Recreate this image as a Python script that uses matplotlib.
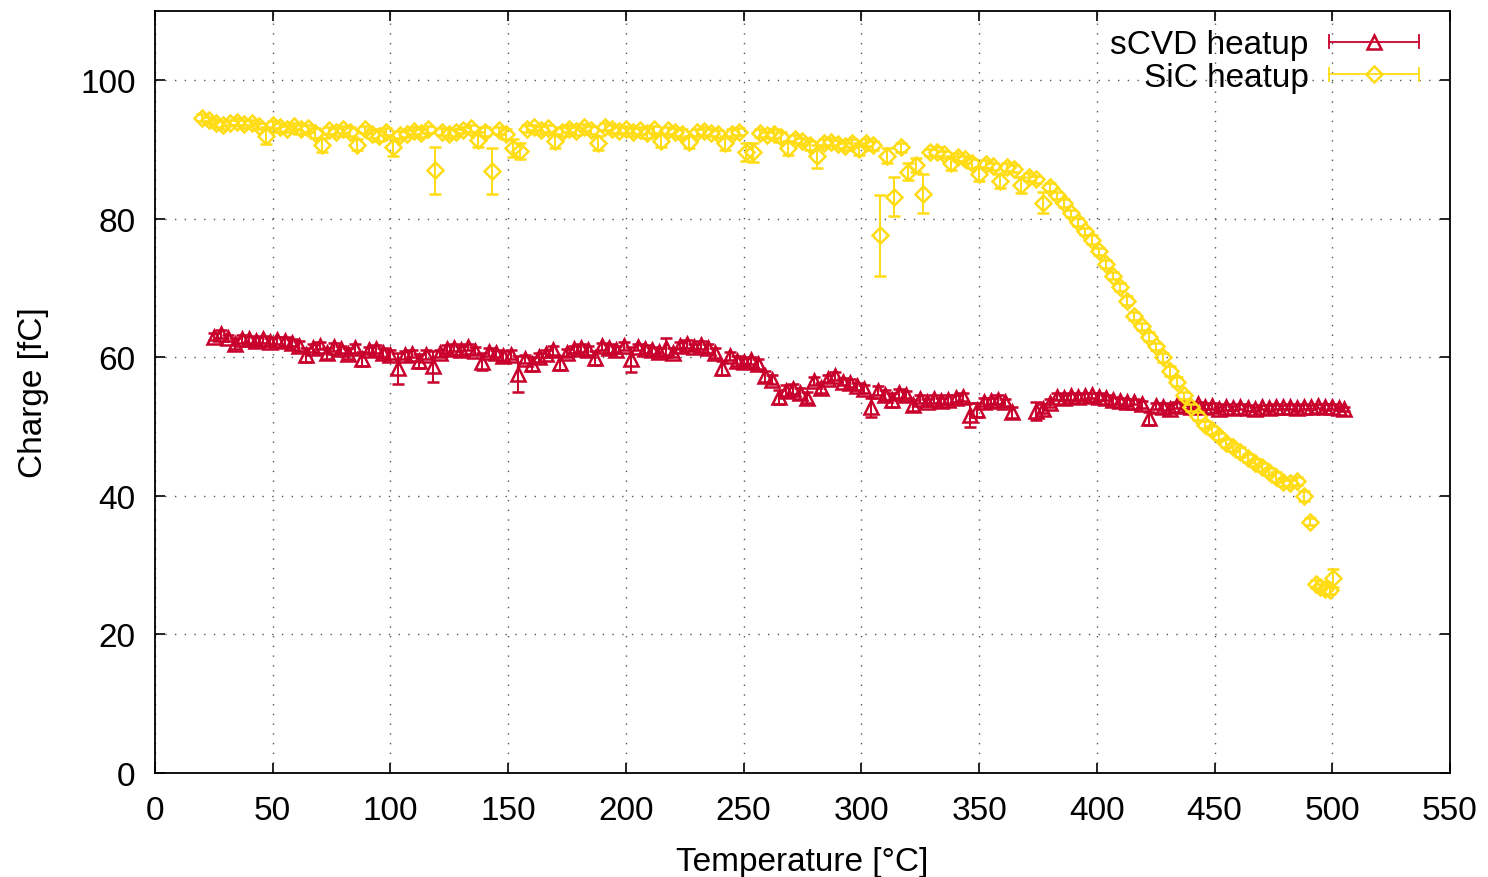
import numpy as np
import matplotlib
matplotlib.use('Agg')
import matplotlib.pyplot as plt
from matplotlib.lines import Line2D
from matplotlib.legend_handler import HandlerBase
from matplotlib.container import ErrorbarContainer

plt.rcParams['font.family'] = ['Liberation Sans', 'DejaVu Sans']
plt.rcParams['font.size'] = 24

# SiC heatup
sic_temp = [20, 23, 26, 29, 32, 35, 38, 41, 44, 47,
            50, 53, 56, 59, 62, 65, 68, 71, 74, 77,
            80, 83, 86, 89, 92, 95, 98, 101, 104, 107,
            110, 113, 116, 119, 122, 125, 128, 131, 134, 137,
            140, 143, 146, 149, 152, 155, 158, 161, 164, 167,
            170, 173, 176, 179, 182, 185, 188, 191, 194, 197,
            200, 203, 206, 209, 212, 215, 218, 221, 224, 227,
            230, 233, 236, 239, 242, 245, 248, 251, 254, 257,
            260, 263, 266, 269, 272, 275, 278, 281, 284, 287,
            290, 293, 296, 299, 302, 305, 308, 311, 314, 317,
            320, 323, 326, 329, 332, 335, 338, 341, 344, 347,
            350, 353, 356, 359, 362, 365, 368, 371, 374, 377,
            380, 383, 386, 389, 392, 395, 398, 401, 404, 407,
            410, 413, 416, 419, 422, 425, 428, 431, 434, 437,
            440, 443, 446, 449, 452, 455, 458, 461, 464, 467,
            470, 473, 476, 479, 482, 485, 488, 490.5, 493, 495,
            497, 499, 500.5]
sic_charge = [94.6, 94.3, 93.8, 93.5, 93.9, 94.0, 93.7, 93.9, 93.4, 92.0,
              93.6, 93.2, 93.0, 93.4, 92.9, 93.1, 92.4, 90.6, 92.8, 92.5,
              92.9, 92.6, 90.7, 92.9, 92.3, 92.0, 92.6, 90.4, 92.1, 92.3,
              92.7, 92.4, 92.9, 87.0, 92.6, 92.3, 92.5, 92.8, 93.1, 91.4,
              92.6, 86.9, 92.8, 92.2, 90.2, 89.8, 93.0, 93.2, 92.8, 93.1,
              91.2, 92.6, 93.0, 92.7, 93.2, 92.8, 91.0, 93.3, 93.0, 92.7,
              92.9, 92.5, 92.8, 92.4, 92.9, 91.3, 92.8, 92.5, 92.3, 91.1,
              92.5, 92.7, 92.4, 92.2, 90.9, 92.3, 92.6, 89.6, 89.6, 92.4,
              92.1, 92.3, 91.8, 90.2, 91.5, 91.2, 90.6, 89.0, 90.9, 91.1,
              90.8, 90.5, 90.9, 90.1, 91.0, 90.6, 77.6, 89.1, 83.2, 90.3,
              86.8, 87.8, 83.6, 89.6, 89.7, 89.3, 88.1, 88.9, 88.6, 88.0,
              86.5, 87.9, 87.6, 85.4, 87.5, 87.2, 84.9, 86.0, 85.7, 82.3,
              84.6, 83.4, 82.3, 80.8, 79.5, 78.2, 77.0, 75.3, 73.5, 71.8,
              70.2, 68.2, 66.0, 64.5, 63.0, 61.6, 60.0, 58.0, 56.5, 54.5,
              52.8, 51.5, 50.3, 49.5, 48.6, 47.6, 47.0, 46.3, 45.5, 44.8,
              44.2, 43.5, 42.7, 42.0, 41.8, 42.2, 40.0, 36.3, 27.3, 26.8,
              26.5, 26.4, 28.2]
sic_err = [0.5, 0.4, 0.5, 0.6, 0.4, 0.5, 0.6, 0.4, 0.5, 1.2,
           0.5, 0.6, 0.4, 0.5, 0.6, 0.5, 0.7, 1.0, 0.5, 0.6,
           0.5, 0.6, 0.8, 0.5, 0.6, 0.7, 0.5, 1.3, 0.6, 0.5,
           0.5, 0.6, 0.5, 3.4, 0.5, 0.6, 0.5, 0.4, 0.5, 1.1,
           0.6, 3.3, 0.5, 0.7, 1.3, 1.2, 0.5, 0.4, 0.6, 0.5,
           1.0, 0.6, 0.5, 0.6, 0.5, 0.6, 1.0, 0.5, 0.6, 0.5,
           0.5, 0.6, 0.5, 0.7, 0.5, 1.0, 0.5, 0.6, 0.6, 0.9,
           0.5, 0.6, 0.5, 0.6, 1.0, 0.6, 0.5, 1.3, 1.4, 0.6,
           0.5, 0.6, 0.7, 1.0, 0.6, 0.5, 0.7, 1.6, 0.6, 0.5,
           0.6, 0.5, 0.6, 0.9, 0.5, 0.7, 5.8, 1.1, 2.8, 0.6,
           1.2, 1.0, 2.8, 0.5, 0.6, 0.5, 1.0, 0.6, 0.5, 0.7,
           1.0, 0.6, 0.5, 1.0, 0.6, 0.5, 1.2, 0.6, 0.5, 1.5,
           0.6, 0.5, 0.6, 0.5, 0.6, 0.5, 0.6, 0.5, 0.6, 0.5,
           0.6, 0.7, 0.6, 0.5, 0.6, 0.5, 0.6, 0.7, 0.6, 0.5,
           0.5, 0.6, 0.5, 0.6, 0.5, 0.6, 0.5, 0.7, 0.6, 0.5,
           0.6, 0.5, 0.7, 0.6, 0.5, 0.6, 0.7, 0.5, 0.6, 0.5,
           0.6, 0.5, 1.3]

# sCVD heatup (no readings between ~365 and ~373 C)
scvd_temp = [25, 28, 31, 34, 37, 40, 43, 46, 49, 52,
             55, 58, 61, 64, 67, 70, 73, 76, 79, 82,
             85, 88, 91, 94, 97, 100, 103, 106, 109, 112,
             115, 118, 121, 124, 127, 130, 133, 136, 139, 142,
             145, 148, 151, 154, 157, 160, 163, 166, 169, 172,
             175, 178, 181, 184, 187, 190, 193, 196, 199, 202,
             205, 208, 211, 214, 217, 220, 223, 226, 229, 232,
             235, 238, 241, 244, 247, 250, 253, 256, 259, 262,
             265, 268, 271, 274, 277, 280, 283, 286, 289, 292,
             295, 298, 301, 304, 307, 310, 313, 316, 319, 322,
             325, 328, 331, 334, 337, 340, 343, 346, 349, 352,
             355, 358, 361, 364, 374, 377, 380, 383, 386, 389,
             392, 395, 398, 401, 404, 407, 410, 413, 416, 419,
             422, 425, 428, 431, 434, 437, 440, 443, 446, 449,
             452, 455, 458, 461, 464, 467, 470, 473, 476, 479,
             482, 485, 488, 491, 494, 497, 500, 503, 505]
scvd_charge = [63.0, 63.4, 62.8, 62.0, 62.7, 62.6, 62.4, 62.6, 62.2, 62.5,
               62.3, 62.1, 61.6, 60.4, 61.4, 61.7, 60.6, 61.5, 61.2, 60.5,
               61.3, 59.8, 61.0, 61.2, 60.6, 60.4, 58.4, 60.3, 60.5, 59.5,
               60.4, 58.7, 60.6, 61.2, 61.4, 61.0, 61.5, 60.9, 59.4, 60.8,
               60.6, 60.2, 60.4, 57.6, 59.8, 59.0, 60.0, 60.5, 61.0, 59.2,
               60.6, 61.2, 61.4, 61.0, 59.9, 61.6, 61.3, 61.1, 61.6, 59.7,
               61.5, 61.2, 61.0, 60.8, 61.4, 60.7, 61.7, 61.9, 61.5, 61.8,
               61.3, 60.6, 58.5, 60.2, 59.5, 59.3, 59.6, 59.0, 57.3, 56.8,
               54.3, 55.2, 55.4, 54.8, 54.2, 56.6, 55.6, 56.9, 57.3, 56.5,
               56.3, 55.8, 55.4, 52.8, 55.2, 54.6, 53.8, 54.8, 54.6, 53.1,
               54.0, 53.5, 54.0, 53.7, 53.9, 54.1, 54.3, 51.7, 52.4, 53.6,
               53.7, 53.9, 53.5, 52.1, 52.2, 52.6, 53.4, 54.3, 54.2, 54.4,
               54.3, 54.4, 54.5, 54.3, 54.2, 53.8, 53.7, 53.5, 53.6, 53.2,
               51.2, 53.0, 52.9, 52.6, 53.1, 53.0, 52.8, 53.2, 52.9, 53.0,
               52.6, 52.8, 52.7, 52.9, 52.7, 52.6, 52.8, 52.7, 52.9, 52.8,
               52.9, 52.7, 52.9, 52.8, 53.0, 52.8, 52.9, 52.7, 52.6]
scvd_err = [0.5, 0.6, 0.5, 0.8, 0.6, 0.5, 0.6, 0.5, 0.6, 0.5,
            0.6, 0.5, 0.7, 1.0, 0.6, 0.5, 0.8, 0.6, 0.5, 0.8,
            0.6, 1.0, 0.5, 0.6, 0.7, 0.6, 2.3, 0.6, 0.5, 1.0,
            0.6, 2.2, 0.5, 0.6, 0.5, 0.7, 0.5, 0.6, 1.2, 0.6,
            0.5, 0.7, 0.6, 2.6, 0.6, 1.0, 0.6, 0.5, 0.6, 1.0,
            0.6, 0.5, 0.6, 0.7, 1.0, 0.5, 0.6, 0.5, 0.6, 1.8,
            0.5, 0.6, 0.5, 0.6, 1.4, 0.6, 0.5, 0.6, 0.5, 0.6,
            0.6, 0.7, 1.0, 0.6, 0.7, 0.6, 0.5, 0.7, 0.8, 0.7,
            1.0, 0.8, 0.7, 0.8, 0.8, 0.6, 0.7, 0.5, 0.6, 0.5,
            0.6, 0.5, 0.6, 1.4, 0.6, 0.7, 1.0, 0.6, 0.5, 0.8,
            0.6, 0.5, 0.6, 0.5, 0.6, 0.5, 0.6, 1.7, 1.0, 0.6,
            0.5, 0.6, 0.5, 0.8, 1.3, 0.7, 0.6, 0.5, 0.4, 0.5,
            0.4, 0.5, 0.4, 0.5, 0.4, 0.5, 0.4, 0.5, 0.4, 0.5,
            0.9, 0.4, 0.5, 0.6, 0.4, 0.4, 0.3, 0.4, 0.3, 0.4,
            0.3, 0.4, 0.3, 0.3, 0.4, 0.3, 0.3, 0.4, 0.3, 0.3,
            0.3, 0.4, 0.3, 0.3, 0.3, 0.4, 0.3, 0.3, 0.3]

red = '#c8002b'
yellow = '#ffdc14'


# gnuplot style key: horizontal error bar with caps, point in the middle
class KeySample(HandlerBase):
    def create_artists(self, legend, orig_handle, xdescent, ydescent,
                       width, height, fontsize, trans):
        dl = orig_handle.lines[0]
        c = dl.get_markeredgecolor()
        y = height / 2 - ydescent
        x0, x1 = -xdescent, width - xdescent
        h = 4.5
        bar = Line2D([x0, x1], [y, y], color=c, lw=1.3)
        caps = Line2D([x0, x0, np.nan, x1, x1], [y - h, y + h, np.nan, y - h, y + h],
                      color=c, lw=1.3)
        pt = Line2D([(x0 + x1) / 2], [y], marker=dl.get_marker(), ms=dl.get_markersize(),
                    mfc='none', mec=c, mew=dl.get_markeredgewidth(), ls='none')
        for a in (bar, caps, pt):
            a.set_transform(trans)
        return [bar, caps, pt]


fig = plt.figure(figsize=(14.88, 8.78), dpi=100)
ax = fig.add_axes([155 / 1488, 1 - 774 / 878, 1295 / 1488, 762 / 878])

e1 = ax.errorbar(scvd_temp, scvd_charge, yerr=scvd_err, fmt='^', ms=9.5, mfc='none',
                 mec=red, mew=1.8, ecolor=red, elinewidth=1.4, capsize=4.5, capthick=1.4,
                 color=red, label='sCVD heatup', zorder=3)
e2 = ax.errorbar(sic_temp, sic_charge, yerr=sic_err, fmt='D', ms=8, mfc='none',
                 mec=yellow, mew=1.8, ecolor=yellow, elinewidth=1.4, capsize=4.5, capthick=1.4,
                 color=yellow, label='SiC heatup', zorder=4)

ax.set_xlim(0, 550)
ax.set_ylim(0, 110)
ax.set_xticks(np.arange(0, 551, 50))
ax.set_yticks(np.arange(0, 101, 20))
ax.tick_params(direction='in', length=7, width=1.2, top=True, right=True, labelsize=24)
ax.tick_params(axis='x', pad=16)
ax.tick_params(axis='y', pad=14)
for s in ax.spines.values():
    s.set_linewidth(1.3)
ax.grid(True, color='#555555', linestyle=(0, (1, 6)), linewidth=1.0)
ax.set_axisbelow(True)

ax.set_xlabel('Temperature [°C]', labelpad=14)
ax.set_ylabel('Charge [fC]', labelpad=22)

ax.legend(handles=[e1, e2], loc='upper right', frameon=False, markerfirst=False,
          handlelength=2.7, handletextpad=0.6, labelspacing=0.05,
          borderaxespad=0.15, bbox_to_anchor=(0.99, 1.0),
          handler_map={ErrorbarContainer: KeySample()})

fig.savefig('out.png', dpi=100)
